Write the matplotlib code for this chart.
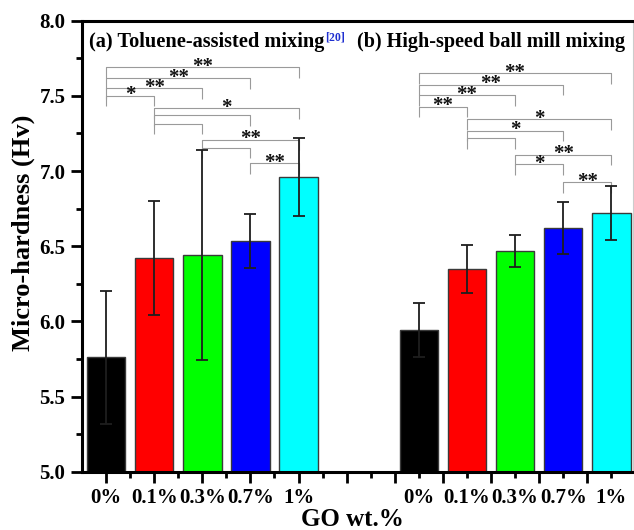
import matplotlib
matplotlib.use("Agg")
import matplotlib.pyplot as plt
import numpy as np

# ---------------- data ----------------
categories = ["0%", "0.1%", "0.3%", "0.7%", "1%"]
colors = ["#000000", "#FF0000", "#00FF00", "#0000FF", "#00FFFF"]

# (a) Toluene-assisted mixing
pos_a = [1, 2, 3, 4, 5]
vals_a = [5.76, 6.42, 6.44, 6.535, 6.96]
err_a = [0.44, 0.38, 0.70, 0.18, 0.26]

# (b) High-speed ball mill mixing
pos_b = [7.5, 8.5, 9.5, 10.5, 11.5]
vals_b = [5.94, 6.35, 6.47, 6.62, 6.72]
err_b = [0.18, 0.16, 0.107, 0.172, 0.18]

# significance brackets: (left bar, right bar, height, label)
brackets_a = [(0, 4, 7.69, "**"), (0, 3, 7.618, "**"), (0, 2, 7.551, "**"), (0, 1, 7.502, "*"),
              (1, 4, 7.418, "*"), (1, 3, 7.371, ""), (1, 2, 7.315, ""),
              (2, 4, 7.207, "**"), (2, 3, 7.155, ""),
              (3, 4, 7.051, "**")]
brackets_b = [(0, 4, 7.649, "**"), (0, 3, 7.573, "**"), (0, 2, 7.505, "**"), (0, 1, 7.429, "**"),
              (1, 4, 7.345, "*"), (1, 3, 7.267, "*"), (1, 2, 7.218, ""),
              (2, 4, 7.109, "**"), (2, 3, 7.045, "*"),
              (3, 4, 6.927, "**")]

title_a = "(a) Toluene-assisted mixing"
title_b = "(b) High-speed ball mill mixing"
ref_label = "[20]"
ylabel = "Micro-hardness (Hv)"
xlabel = "GO wt.%"

# ---------------- style ----------------
FONT = "Liberation Serif"
plt.rcParams["font.family"] = [FONT, "DejaVu Serif"]
plt.rcParams["font.weight"] = "bold"

fig = plt.figure(figsize=(6.34, 5.30), dpi=100)
ax = fig.add_axes([82 / 634, (530 - 471.7) / 530, (633 - 82) / 634, (471.7 - 20.7) / 530])

bar_w = 0.8
for pos, vals, errs in [(pos_a, vals_a, err_a), (pos_b, vals_b, err_b)]:
    ax.bar(pos, vals, width=bar_w, color=colors, edgecolor="#3a3a3a", linewidth=1.0, zorder=2)
    ax.errorbar(pos, vals, yerr=errs, fmt="none", ecolor="#1e1e1e", elinewidth=1.3,
                capsize=4, capthick=1.3, zorder=3)

drop = 0.07
for pos, brackets in [(pos_a, brackets_a), (pos_b, brackets_b)]:
    for i, j, y, lab in brackets:
        x1, x2 = pos[i], pos[j]
        ax.plot([x1, x1, x2, x2], [y - drop, y, y, y - drop], color="#9a9a9a", lw=0.8,
                solid_capstyle="butt", zorder=1)
        if lab:
            ax.text((x1 + x2) / 2, y - 0.03, lab, ha="center", va="baseline",
                    fontsize=15, fontweight="bold", color="#111111", zorder=4)

ax.set_xlim(0.5, 11.95)
ax.set_ylim(5.0, 8.0)

# x ticks: integer majors, half-integer minors; labels at bar centres
major_x = np.arange(1, 12)
major_labels = [categories[int(p) - 1] if p in pos_a else "" for p in major_x]
minor_x = np.arange(1.5, 12.0, 1.0)
minor_labels = [categories[pos_b.index(p)] if p in pos_b else "" for p in minor_x]
ax.set_xticks(major_x, labels=major_labels)
ax.set_xticks(minor_x, labels=minor_labels, minor=True)

ax.set_yticks(np.arange(5.0, 8.01, 0.5))
ax.set_yticks(np.arange(5.25, 8.0, 0.5), minor=True)
ax.set_yticklabels([f"{v:.1f}" for v in np.arange(5.0, 8.01, 0.5)])

for lab in ax.get_xticklabels(which="both") + ax.get_yticklabels():
    lab.set_fontsize(15)
    lab.set_fontweight("bold")

ax.tick_params(axis="both", which="major", direction="out", length=8, width=2.0, pad=4)
ax.tick_params(axis="both", which="minor", direction="out", length=4, width=2.0, pad=8)
ax.tick_params(axis="x", which="minor", labelsize=15)

for side in ["left", "bottom", "top"]:
    ax.spines[side].set_linewidth(2.2)
ax.spines["right"].set_linewidth(0.8)
ax.spines["right"].set_color("#cccccc")

ax.set_ylabel(ylabel, fontsize=19, fontweight="bold")
ax.yaxis.set_label_coords(-0.085, 0.53)
ax.set_xlabel(xlabel, fontsize=18, fontweight="bold")
ax.xaxis.set_label_coords(0.49, -0.08)

t = ax.text(0.637, 7.855, title_a, ha="left", va="center", fontsize=14.7, fontweight="bold")
ax.annotate(ref_label, xy=(1.0, 1.0), xycoords=t, xytext=(1, 1), textcoords="offset points",
            ha="left", va="top", fontsize=8.5, fontweight="bold", color="#1f2fd0")
ax.text(6.214, 7.855, title_b, ha="left", va="center", fontsize=14.5, fontweight="bold")

fig.savefig("out.png", dpi=100)
